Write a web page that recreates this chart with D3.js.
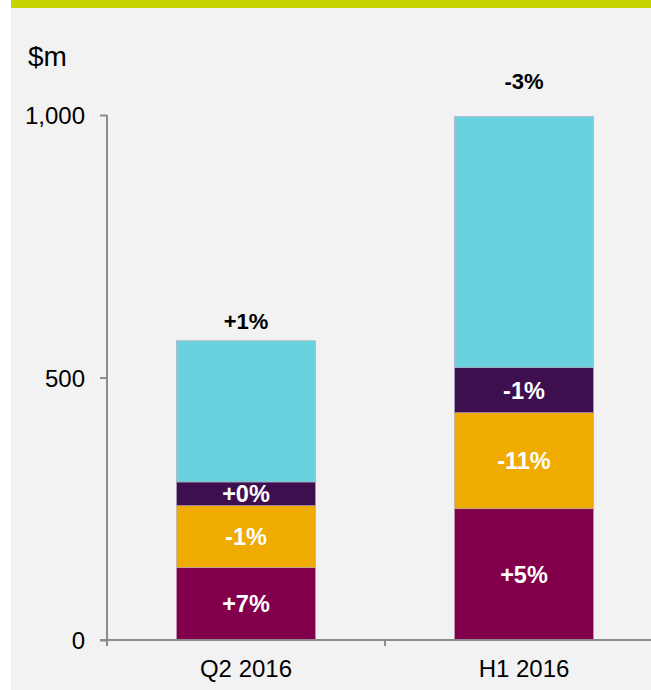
<!DOCTYPE html>
<html>
<head>
<meta charset="utf-8">
<script src="https://cdn.jsdelivr.net/npm/d3@7"></script>
<style>
html,body{margin:0;padding:0;background:#fff;}
svg{display:block;font-family:"Liberation Sans",Arial,sans-serif;}
</style>
</head>
<body>
<svg id="chart" width="651" height="690"></svg>
<script>
const categories = ["Q2 2016", "H1 2016"];
const seriesNames = ["s1", "s2", "s3", "s4"];
const s1 = [138, 250];
const s2 = [118, 183];
const s3 = [45, 86];
const s4 = [269, 478];
const segLabels = [["+7%", "-1%", "+0%", ""], ["+5%", "-11%", "-1%", ""]];
const totalLabels = ["+1%", "-3%"];
const yTicks = [0, 500, 1000];
const unitLabel = "$m";

(function () {
const colors = ["#82004b", "#f0ab00", "#3d0f4f", "#68d2df"];
const svg = d3.select("#chart");
const W = 651, H = 690;

svg.append("rect").attr("x", 11).attr("y", 0).attr("width", W - 11).attr("height", H).attr("fill", "#f2f2f2");
svg.append("rect").attr("x", 11).attr("y", 0).attr("width", W - 11).attr("height", 8).attr("fill", "#c8d400");

const y = d3.scaleLinear().domain([0, 1000]).range([640, 115]);
const x = d3.scaleBand().domain(categories).range([107, 663]).padding(0);
const barW = x.bandwidth() * 0.5;

const table = categories.map((c, i) => ({cat: c, s1: s1[i], s2: s2[i], s3: s3[i], s4: s4[i]}));
const stack = d3.stack().keys(seriesNames)(table);

const g = svg.append("g");
stack.forEach((layer, li) => {
  layer.forEach((d, ci) => {
    const cx = x(categories[ci]) + x.bandwidth() / 2;
    g.append("rect")
      .attr("x", cx - barW / 2)
      .attr("y", y(d[1]))
      .attr("width", barW)
      .attr("height", y(d[0]) - y(d[1]))
      .attr("fill", colors[li])
      .attr("stroke", "#b3a6bb").attr("stroke-width", 0.6);
    const lab = segLabels[ci][li];
    if (lab) {
      g.append("text")
        .attr("x", cx)
        .attr("y", (y(d[0]) + y(d[1])) / 2)
        .attr("dy", "0.36em")
        .attr("text-anchor", "middle")
        .attr("fill", "#ffffff")
        .attr("font-weight", "bold")
        .attr("font-size", 23.5)
        .text(lab);
    }
  });
});

const topLayer = stack[stack.length - 1];
const topOffsets = [12, 28];
topLayer.forEach((d, ci) => {
  const cx = x(categories[ci]) + x.bandwidth() / 2;
  svg.append("text")
    .attr("x", cx)
    .attr("y", y(d[1]) - topOffsets[ci])
    .attr("text-anchor", "middle")
    .attr("fill", "#000")
    .attr("font-weight", "bold")
    .attr("font-size", 22)
    .text(totalLabels[ci]);
});

const axisColor = "#8c8c8c";
const yAxis = d3.axisLeft(y).tickValues(yTicks).tickSize(7).tickPadding(15).tickFormat(d3.format(","));
const ya = svg.append("g").attr("transform", "translate(107,0)").call(yAxis);
ya.select(".domain").remove();
ya.selectAll(".tick line").attr("stroke", axisColor).attr("stroke-width", 2);
ya.selectAll(".tick text").attr("font-size", 24).attr("fill", "#000").attr("font-family", "Liberation Sans, Arial, sans-serif").attr("dy", "0.36em");
svg.append("line").attr("x1", 107).attr("x2", 107).attr("y1", y(1000)).attr("y2", y(0) + 6)
  .attr("stroke", axisColor).attr("stroke-width", 2);

svg.append("line").attr("x1", 100).attr("x2", W).attr("y1", y(0)).attr("y2", y(0))
  .attr("stroke", axisColor).attr("stroke-width", 2);
const bounds = categories.map(c => x(c)).concat([x.range()[1]]);
bounds.forEach(b => {
  svg.append("line").attr("x1", b).attr("x2", b).attr("y1", y(0)).attr("y2", y(0) + 6)
    .attr("stroke", axisColor).attr("stroke-width", 2);
});
categories.forEach(c => {
  svg.append("text")
    .attr("x", x(c) + x.bandwidth() / 2)
    .attr("y", 677)
    .attr("text-anchor", "middle")
    .attr("font-size", 24)
    .attr("fill", "#000")
    .text(c);
});

svg.append("text").attr("x", 28).attr("y", 66).attr("font-size", 28).attr("fill", "#000").text(unitLabel);
})();
</script>
</body>
</html>
